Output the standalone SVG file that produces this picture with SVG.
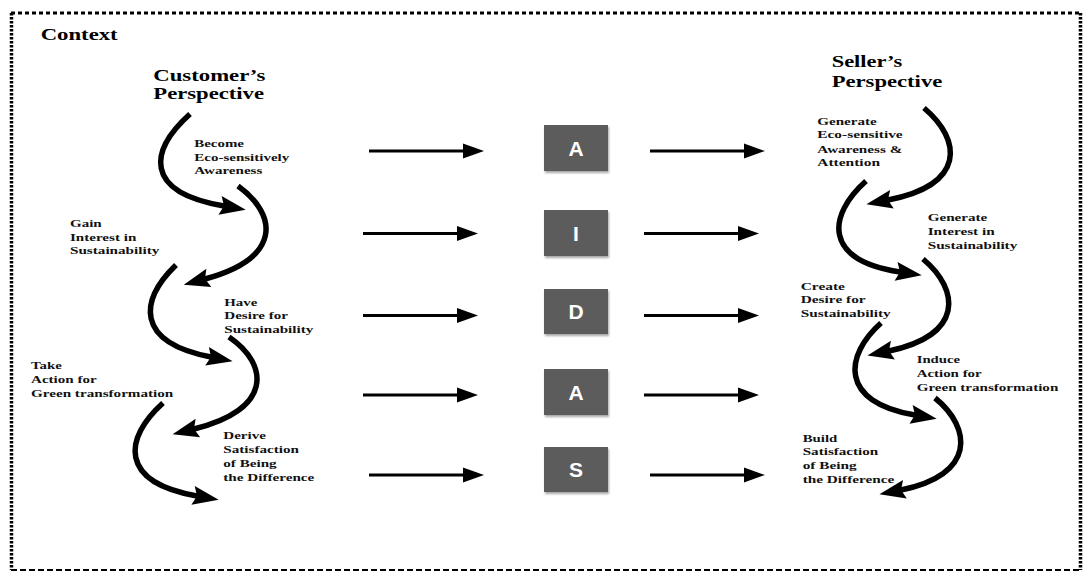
<svg xmlns="http://www.w3.org/2000/svg" width="1085" height="572" viewBox="0 0 1085 572">
<style>
.h{font-family:"Liberation Serif","Times New Roman",serif;font-weight:bold;font-size:17px;fill:#000}
.l{font-family:"Liberation Serif","Times New Roman",serif;font-weight:bold;font-size:11px;fill:#111}
.box{fill:#5c5c5c}
.bl{font-family:"Liberation Sans",Arial,sans-serif;font-weight:bold;font-size:21px;fill:#fff;text-anchor:middle}
.sa{stroke:#000;stroke-width:3;fill:none}
.ca{stroke:#000;stroke-width:5.5;fill:none;stroke-linecap:butt}
</style>
<defs>
<marker id="hs" markerUnits="userSpaceOnUse" markerWidth="22" markerHeight="16" refX="0" refY="0" orient="auto" overflow="visible">
<path d="M-1,-7.5 L20,0 L-1,7.5 z" fill="#000"/>
</marker>
<marker id="hc" markerUnits="userSpaceOnUse" markerWidth="28" markerHeight="20" refX="0" refY="0" orient="auto" overflow="visible">
<path d="M-4,-9.5 L22,0 L-4,9.5 L0,0 z" fill="#000"/>
</marker>
<filter id="sh" x="-20%" y="-20%" width="140%" height="150%">
<feDropShadow dx="1" dy="2" stdDeviation="1.2" flood-color="#000" flood-opacity="0.35"/>
</filter>
</defs>
<rect width="1085" height="572" fill="#fff"/>
<g id="border" fill="none" stroke="#000">
<line x1="11" y1="13" x2="1081" y2="13" stroke-width="3" stroke-dasharray="4 3"/>
<line x1="11.5" y1="13" x2="11.5" y2="570" stroke-width="3.5" stroke-dasharray="2.5 1.5"/>
<line x1="1080.5" y1="13" x2="1080.5" y2="570" stroke-width="3.5" stroke-dasharray="2.5 1.5"/>
<line x1="11" y1="570" x2="1081" y2="570" stroke-width="2" stroke-dasharray="6 3"/>
</g>
<text class="h" x="40.7" y="40" textLength="77" lengthAdjust="spacingAndGlyphs">Context</text>
<g id="customer-title">
<text class="h" x="153.3" y="80.7" textLength="112" lengthAdjust="spacingAndGlyphs">Customer’s</text>
<text class="h" x="153.3" y="99" textLength="110.7" lengthAdjust="spacingAndGlyphs">Perspective</text>
</g>
<g id="seller-title">
<text class="h" x="831.7" y="66.7" textLength="70.6" lengthAdjust="spacingAndGlyphs">Seller’s</text>
<text class="h" x="831.7" y="86.7" textLength="110.6" lengthAdjust="spacingAndGlyphs">Perspective</text>
</g>
<g id="c-awareness">
<text class="l" x="194.3" y="146.7" textLength="49.7" lengthAdjust="spacingAndGlyphs">Become</text>
<text class="l" x="194.3" y="161" textLength="95" lengthAdjust="spacingAndGlyphs">Eco-sensitively</text>
<text class="l" x="194.3" y="174.3" textLength="68" lengthAdjust="spacingAndGlyphs">Awareness</text>
</g>
<g id="c-interest">
<text class="l" x="70" y="226.7" textLength="31.7" lengthAdjust="spacingAndGlyphs">Gain</text>
<text class="l" x="70" y="240.7" textLength="66.3" lengthAdjust="spacingAndGlyphs">Interest in</text>
<text class="l" x="70" y="254" textLength="89.3" lengthAdjust="spacingAndGlyphs">Sustainability</text>
</g>
<g id="c-desire">
<text class="l" x="224.3" y="306" textLength="33" lengthAdjust="spacingAndGlyphs">Have</text>
<text class="l" x="224.3" y="319.3" textLength="63.7" lengthAdjust="spacingAndGlyphs">Desire for</text>
<text class="l" x="224.3" y="333.3" textLength="89" lengthAdjust="spacingAndGlyphs">Sustainability</text>
</g>
<g id="c-action">
<text class="l" x="31" y="368.7" textLength="30.7" lengthAdjust="spacingAndGlyphs">Take</text>
<text class="l" x="31" y="383.3" textLength="65.7" lengthAdjust="spacingAndGlyphs">Action for</text>
<text class="l" x="31" y="396.7" textLength="142.3" lengthAdjust="spacingAndGlyphs">Green transformation</text>
</g>
<g id="c-satisfaction">
<text class="l" x="223.3" y="439" textLength="42.7" lengthAdjust="spacingAndGlyphs">Derive</text>
<text class="l" x="223.3" y="453" textLength="75.7" lengthAdjust="spacingAndGlyphs">Satisfaction</text>
<text class="l" x="223.3" y="466.7" textLength="53.4" lengthAdjust="spacingAndGlyphs">of Being</text>
<text class="l" x="223.3" y="480.7" textLength="91" lengthAdjust="spacingAndGlyphs">the Difference</text>
</g>
<g id="s-awareness">
<text class="l" x="817.3" y="125" textLength="59.4" lengthAdjust="spacingAndGlyphs">Generate</text>
<text class="l" x="817.3" y="138.3" textLength="85.4" lengthAdjust="spacingAndGlyphs">Eco-sensitive</text>
<text class="l" x="817.3" y="152.7" textLength="85" lengthAdjust="spacingAndGlyphs">Awareness &amp;</text>
<text class="l" x="817.3" y="166" textLength="62.7" lengthAdjust="spacingAndGlyphs">Attention</text>
</g>
<g id="s-interest">
<text class="l" x="927.7" y="220.7" textLength="59.6" lengthAdjust="spacingAndGlyphs">Generate</text>
<text class="l" x="927.7" y="235" textLength="67" lengthAdjust="spacingAndGlyphs">Interest in</text>
<text class="l" x="927.7" y="249" textLength="89.6" lengthAdjust="spacingAndGlyphs">Sustainability</text>
</g>
<g id="s-desire">
<text class="l" x="800.7" y="290" textLength="44.3" lengthAdjust="spacingAndGlyphs">Create</text>
<text class="l" x="800.7" y="303.3" textLength="65" lengthAdjust="spacingAndGlyphs">Desire for</text>
<text class="l" x="800.7" y="317.3" textLength="90" lengthAdjust="spacingAndGlyphs">Sustainability</text>
</g>
<g id="s-action">
<text class="l" x="916.7" y="363.3" textLength="43.3" lengthAdjust="spacingAndGlyphs">Induce</text>
<text class="l" x="916.7" y="377.3" textLength="65" lengthAdjust="spacingAndGlyphs">Action for</text>
<text class="l" x="916.7" y="391.3" textLength="141.6" lengthAdjust="spacingAndGlyphs">Green transformation</text>
</g>
<g id="s-satisfaction">
<text class="l" x="802.7" y="441.7" textLength="34.6" lengthAdjust="spacingAndGlyphs">Build</text>
<text class="l" x="802.7" y="455" textLength="75.6" lengthAdjust="spacingAndGlyphs">Satisfaction</text>
<text class="l" x="802.7" y="469" textLength="54" lengthAdjust="spacingAndGlyphs">of Being</text>
<text class="l" x="802.7" y="482.7" textLength="91.6" lengthAdjust="spacingAndGlyphs">the Difference</text>
</g>
<g id="box-A1"><rect class="box" x="544" y="125" width="64" height="46" filter="url(#sh)"/><text class="bl" x="576" y="155.5">A</text></g>
<g id="box-I"><rect class="box" x="544" y="210" width="64" height="46" filter="url(#sh)"/><text class="bl" x="576" y="240.5">I</text></g>
<g id="box-D"><rect class="box" x="544" y="289" width="64" height="45" filter="url(#sh)"/><text class="bl" x="576" y="319">D</text></g>
<g id="box-A2"><rect class="box" x="544" y="369" width="64" height="46" filter="url(#sh)"/><text class="bl" x="576" y="399.5">A</text></g>
<g id="box-S"><rect class="box" x="544" y="447" width="64" height="45" filter="url(#sh)"/><text class="bl" x="576" y="477">S</text></g>
<g id="connectors">
<line class="sa" x1="369" y1="151" x2="464" y2="151" marker-end="url(#hs)"/>
<line class="sa" x1="650" y1="151" x2="745" y2="151" marker-end="url(#hs)"/>
<line class="sa" x1="363" y1="233.5" x2="458" y2="233.5" marker-end="url(#hs)"/>
<line class="sa" x1="644" y1="233.5" x2="739" y2="233.5" marker-end="url(#hs)"/>
<line class="sa" x1="363" y1="315.5" x2="458" y2="315.5" marker-end="url(#hs)"/>
<line class="sa" x1="644" y1="315.5" x2="739" y2="315.5" marker-end="url(#hs)"/>
<line class="sa" x1="363" y1="395" x2="458" y2="395" marker-end="url(#hs)"/>
<line class="sa" x1="644" y1="395" x2="739" y2="395" marker-end="url(#hs)"/>
<line class="sa" x1="369" y1="475" x2="464" y2="475" marker-end="url(#hs)"/>
<line class="sa" x1="650" y1="475" x2="745" y2="475" marker-end="url(#hs)"/>
<path class="ca" d="M190,114 C150,150 142,192 224,206" marker-end="url(#hc)"/>
<path class="ca" d="M238,186 C278,215 282,258 205,279" marker-end="url(#hc)"/>
<path class="ca" d="M176,265 C140,300 134,342 211,357" marker-end="url(#hc)"/>
<path class="ca" d="M229,337 C270,365 272,410 194,429" marker-end="url(#hc)"/>
<path class="ca" d="M163,403 C124,438 118,482 197,496" marker-end="url(#hc)"/>
<path class="ca" d="M924,108 C962,140 966,185 888,200" marker-end="url(#hc)"/>
<path class="ca" d="M866,181 C828,215 822,260 900,272" marker-end="url(#hc)"/>
<path class="ca" d="M923,259 C960,290 964,335 889,351" marker-end="url(#hc)"/>
<path class="ca" d="M881,323 C845,355 838,402 915,415" marker-end="url(#hc)"/>
<path class="ca" d="M935,398 C972,428 976,475 901,490" marker-end="url(#hc)"/>
</g>
</svg>
